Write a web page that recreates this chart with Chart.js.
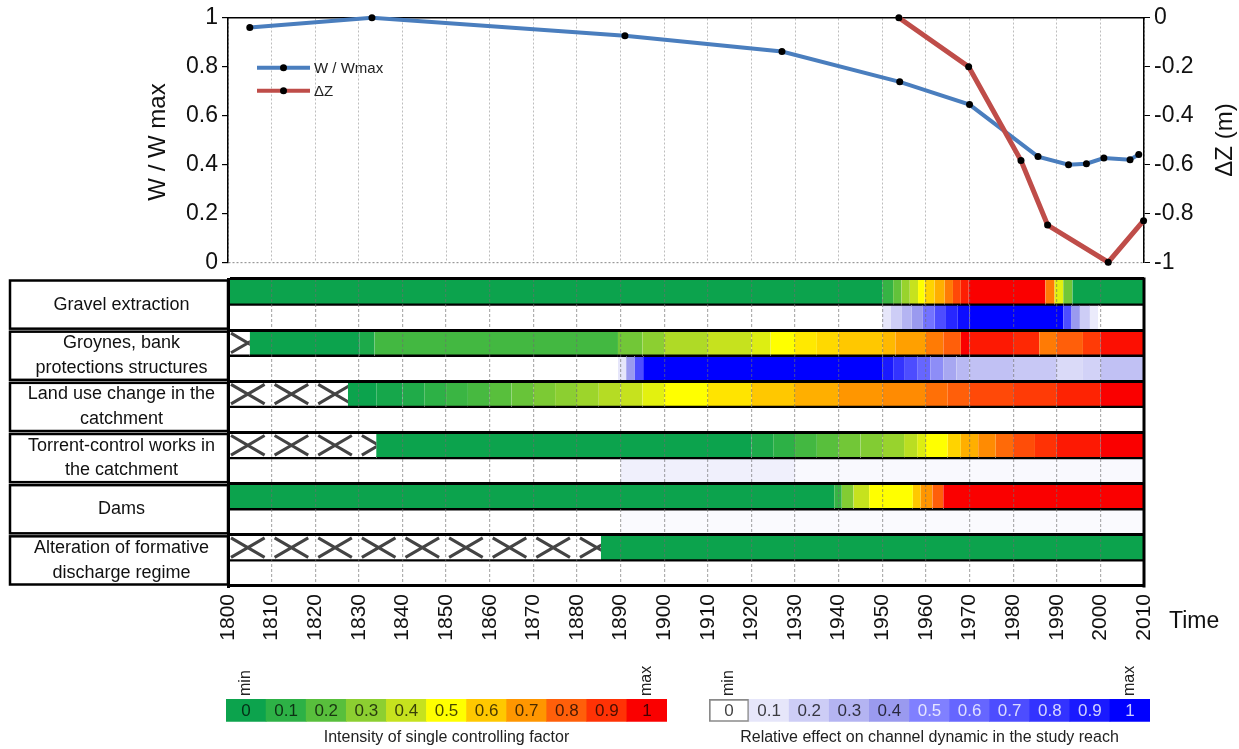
<!DOCTYPE html>
<html>
<head>
<meta charset="utf-8">
<title>Channel width, bed level and controlling factors</title>
<script src="https://cdn.jsdelivr.net/npm/chart.js@4.4.1/dist/chart.umd.min.js"></script>
<style>
  body { margin: 0; background: #fff; }
  #wrap { position: relative; width: 1239px; height: 749px; overflow: hidden; background: #fff; }
  canvas { position: absolute; }
</style>
</head>
<body>
<div id="wrap">
  <canvas id="lineChart" width="1239" height="280" style="left:0;top:0"></canvas>
  <canvas id="heatChart" width="1239" height="400" style="left:0;top:270px"></canvas>
  <canvas id="legendA" width="520" height="87" style="left:180px;top:662px"></canvas>
  <canvas id="legendB" width="520" height="87" style="left:665px;top:662px"></canvas>
</div>
<script>
// ---- top chart: width ratio and bed level change ----
const wYears = [1805, 1833, 1891, 1927, 1954, 1970, 1985.7, 1992.7, 1996.8, 2000.8, 2006.8, 2008.8];
const wValues = [0.96, 1.0, 0.927, 0.862, 0.738, 0.645, 0.432, 0.399, 0.403, 0.426, 0.419, 0.441];
const dzYears = [1953.8, 1969.8, 1981.8, 1987.9, 2001.8, 2009.9];
const dzValues = [0, -0.2, -0.584, -0.848, -1.0, -0.83];

const leftTicks = [0, 0.2, 0.4, 0.6, 0.8, 1];
const leftTickLabels = ['0', '0.2', '0.4', '0.6', '0.8', '1'];
const rightTicks = [-1, -0.8, -0.6, -0.4, -0.2, 0];
const rightTickLabels = ['-1', '-0.8', '-0.6', '-0.4', '-0.2', '0'];
const decadeTicks = [1800, 1810, 1820, 1830, 1840, 1850, 1860, 1870, 1880, 1890, 1900,
  1910, 1920, 1930, 1940, 1950, 1960, 1970, 1980, 1990, 2000, 2010];

// ---- heatmap: [start year, value] segments, null = not present (hatched) ----
const factorLabels = ['Gravel extraction', ['Groynes, bank', 'protections structures'],
  ['Land use change in the', 'catchment'], ['Torrent-control works in', 'the catchment'],
  'Dams', ['Alteration of formative', 'discharge regime']];

const gravelI = [[1800, 0], [1950, 0.12], [1952.5, 0.22], [1954.4, 0.32], [1956.3, 0.4], [1958.2, 0.5],
  [1959.7, 0.58], [1962, 0.65], [1964.3, 0.75], [1966.2, 0.85], [1968, 0.94], [1969.8, 1],
  [1987.4, 0.75], [1989.5, 0.45], [1991.5, 0.25], [1993.6, 0]];
const gravelE = [[1800, 0], [1950, 0.1], [1952, 0.2], [1954.5, 0.3], [1956.7, 0.4], [1959.3, 0.55],
  [1962, 0.7], [1964.6, 0.85], [1967.3, 0.95], [1970, 1], [1991.5, 0.7], [1993.4, 0.4],
  [1995.3, 0.2], [1997.6, 0.08], [1999.5, 0]];
const groynesI = [[1800, null], [1805, 0], [1830.2, 0.05], [1833.6, 0.15], [1889.4, 0.25], [1895, 0.3],
  [1900, 0.36], [1910, 0.4], [1920, 0.44], [1924.4, 0.5], [1930, 0.54], [1935, 0.57], [1940, 0.6],
  [1950, 0.63], [1953, 0.68], [1960, 0.75], [1964, 0.8], [1968, 1], [1970, 0.95], [1980, 0.92],
  [1986, 0.75], [1990, 0.8], [1996, 0.88], [2000, 0.97]];
const groynesE = [[1800, 0], [1889.4, 0.1], [1891.3, 0.4], [1893.2, 0.7], [1895.2, 1], [1950, 0.9],
  [1952.5, 0.8], [1955, 0.7], [1958, 0.6], [1961, 0.45], [1964, 0.35], [1967, 0.28], [1970, 0.25],
  [1980, 0.22], [1990, 0.15], [1996, 0.18], [2000, 0.25]];
const landI = [[1800, null], [1827.5, 0], [1834, 0.03], [1840, 0.06], [1845, 0.1], [1850, 0.13],
  [1855, 0.16], [1860, 0.2], [1865, 0.23], [1870, 0.27], [1875, 0.3], [1880, 0.33], [1885, 0.37],
  [1890, 0.4], [1895, 0.45], [1900, 0.5], [1910, 0.55], [1920, 0.6], [1930, 0.65], [1940, 0.7],
  [1950, 0.72], [1960, 0.77], [1965, 0.8], [1970, 0.85], [1980, 0.88], [1990, 0.93], [2000, 1]];
const landE = [[1800, 0]];
const torrentI = [[1800, null], [1834, 0], [1920, 0.05], [1925, 0.1], [1930, 0.15], [1935, 0.2],
  [1940, 0.25], [1945, 0.28], [1950, 0.32], [1955, 0.38], [1958, 0.44], [1960, 0.5], [1965, 0.58],
  [1968, 0.65], [1972, 0.72], [1976, 0.78], [1980, 0.84], [1985, 0.9], [1990, 0.95], [2000, 1]];
const torrentE = [[1800, 0], [1890, 0.06], [1930, 0.025]];
const damsI = [[1800, 0], [1939, 0.12], [1940.7, 0.28], [1943.4, 0.4], [1947, 0.5], [1957, 0.6],
  [1958.8, 0.7], [1961.5, 0.8], [1964, 1]];
const damsE = [[1800, 0], [1890, 0.02]];
const alterationI = [[1800, null], [1885.5, 0]];
const alterationE = [[1800, 0]];

// ---- colour scales ----
const legendValues = [0, 0.1, 0.2, 0.3, 0.4, 0.5, 0.6, 0.7, 0.8, 0.9, 1];
const legendLabels = ['0', '0.1', '0.2', '0.3', '0.4', '0.5', '0.6', '0.7', '0.8', '0.9', '1'];
const intensityPalette = ['#0ca34d', '#2db146', '#58bf3c', '#8ccf31', '#c6e21e', '#ffff00',
  '#ffc800', '#ff9600', '#ff5f0a', '#ff3205', '#fa0000'];
const effectPalette = ['#ffffff', '#e6e6fa', '#cdcdf6', '#b4b4f2', '#9a9aef', '#8080ff',
  '#6666ff', '#4d4dff', '#3333ff', '#1a1aff', '#0000ff'];

const FONT = "'Liberation Sans', Arial, Helvetica, sans-serif";
Chart.defaults.font.family = FONT;
Chart.defaults.color = '#111';
Chart.defaults.animation = false;
Chart.defaults.plugins.legend.display = false;
Chart.defaults.plugins.tooltip.enabled = false;

function hexRgb(h) {
  return [parseInt(h.slice(1, 3), 16), parseInt(h.slice(3, 5), 16), parseInt(h.slice(5, 7), 16)];
}
function colorAt(palette, v) {
  if (v === null) return '#ffffff';
  const t = Math.min(Math.max(v, 0), 1) * 10;
  const i = Math.min(Math.floor(t), 9);
  const f = t - i;
  const a = hexRgb(palette[i]), b = hexRgb(palette[i + 1]);
  const c = a.map((x, k) => Math.round(x + (b[k] - x) * f));
  return 'rgb(' + c.join(',') + ')';
}

// ---------------- top line chart ----------------
const topDeco = {
  id: 'topDeco',
  afterDraw(chart) {
    const ctx = chart.ctx, area = chart.chartArea;
    ctx.save();
    // axis titles
    ctx.fillStyle = '#111';
    ctx.font = '24px ' + FONT;
    ctx.textAlign = 'center';
    ctx.textBaseline = 'middle';
    ctx.translate(158, 142);
    ctx.rotate(-Math.PI / 2);
    ctx.fillText('W / W max', 0, 0);
    ctx.setTransform(1, 0, 0, 1, 0, 0);
    ctx.translate(1225, 140);
    ctx.rotate(-Math.PI / 2);
    ctx.fillText('\u0394Z (m)', 0, 0);
    ctx.setTransform(1, 0, 0, 1, 0, 0);
    // legend
    const items = chart.data.datasets.map(d => d).sort((a, b) => a.legendIndex - b.legendIndex);
    items.forEach((d, i) => {
      const y = area.top + 50 + i * 23;
      const x0 = area.left + 29, x1 = area.left + 82;
      ctx.strokeStyle = d.borderColor;
      ctx.lineWidth = 4;
      ctx.beginPath();
      ctx.moveTo(x0, y);
      ctx.lineTo(x1, y);
      ctx.stroke();
      ctx.fillStyle = '#000';
      ctx.beginPath();
      ctx.arc((x0 + x1) / 2, y, 3.5, 0, Math.PI * 2);
      ctx.fill();
      ctx.fillStyle = '#222';
      ctx.font = '15px ' + FONT;
      ctx.textAlign = 'left';
      ctx.fillText(d.label, x1 + 4, y + 1);
    });
    ctx.restore();
  }
};

new Chart(document.getElementById('lineChart'), {
  type: 'line',
  data: {
    datasets: [{
      label: 'W / Wmax',
      legendIndex: 0,
      data: wYears.map((x, i) => ({ x, y: wValues[i] })),
      yAxisID: 'y',
      borderColor: '#4a7ebe',
      borderWidth: 4,
      pointRadius: 3.5,
      pointBackgroundColor: '#000',
      pointBorderWidth: 0,
      order: 1,
      clip: false
    }, {
      label: '\u0394Z',
      legendIndex: 1,
      data: dzYears.map((x, i) => ({ x, y: dzValues[i] })),
      yAxisID: 'y1',
      borderColor: '#bf4d49',
      borderWidth: 5,
      pointRadius: 3.5,
      pointBackgroundColor: '#000',
      pointBorderWidth: 0,
      order: 0,
      clip: false
    }]
  },
  options: {
    responsive: false,
    layout: { padding: { top: 16, bottom: 13, left: 0, right: 0 } },
    scales: {
      x: {
        type: 'linear', position: 'top', min: 1800, max: 2010,
        afterBuildTicks: s => { s.ticks = decadeTicks.map(v => ({ value: v })); },
        ticks: { display: false },
        grid: { color: '#bdbdbd', lineWidth: 1, drawTicks: false },
        border: { display: true, color: '#000', width: 1.5, dash: [2, 2] },
        afterFit: s => { s.height = 0; }
      },
      y: {
        position: 'left', min: 0, max: 1,
        afterBuildTicks: s => { s.ticks = leftTicks.map(v => ({ value: v })); },
        ticks: { font: { size: 23 }, color: '#111', padding: 4, callback: (v, i) => leftTickLabels[i] },
        grid: {
          color: c => (c.tick && c.tick.value === 0 ? '#9a9a9a' : 'rgba(0,0,0,0)'),
          tickColor: '#000', tickLength: 6, lineWidth: 1.2
        },
        border: { display: true, color: '#000', width: 1.5, dash: [2, 2] },
        afterFit: s => { s.width = 228; }
      },
      y1: {
        position: 'right', min: -1, max: 0,
        afterBuildTicks: s => { s.ticks = rightTicks.map(v => ({ value: v })); },
        ticks: { font: { size: 23 }, color: '#111', padding: 4, callback: (v, i) => rightTickLabels[i] },
        grid: { drawOnChartArea: false, color: '#000', tickColor: '#000', tickLength: 6 },
        border: { display: true, color: '#000', width: 1.5 },
        afterFit: s => { s.width = 1239 - 1144; }
      }
    }
  },
  plugins: [topDeco]
});

// ---------------- heatmap of controlling factors ----------------
function toSegments(rows, palette) {
  const data = [], colors = [], hatch = [];
  rows.forEach((row, r) => {
    row.forEach(([start, v], k) => {
      const end = k + 1 < row.length ? row[k + 1][0] : 2010;
      data.push({ x: [start, end], y: factorLabels[r] });
      colors.push(colorAt(palette, v));
      hatch.push(v === null);
    });
  });
  return { data, colors, hatch };
}
const intensitySeg = toSegments([gravelI, groynesI, landI, torrentI, damsI, alterationI], intensityPalette);
const effectSeg = toSegments([gravelE, groynesE, landE, torrentE, damsE, alterationE], effectPalette);

const heatDeco = {
  id: 'heatDeco',
  afterDatasetsDraw(chart) {
    const ctx = chart.ctx, xs = chart.scales.x;
    const meta = chart.getDatasetMeta(0);
    ctx.save();
    meta.data.forEach((el, i) => {
      if (!intensitySeg.hatch[i]) return;
      const p = el.getProps(['x', 'y', 'base', 'height'], true);
      const top = p.y - p.height / 2, bottom = p.y + p.height / 2;
      const left = Math.min(p.x, p.base), right = Math.max(p.x, p.base);
      ctx.save();
      ctx.beginPath();
      ctx.rect(left, top, right - left, bottom - top);
      ctx.clip();
      ctx.strokeStyle = '#444';
      ctx.lineWidth = 3;
      for (let d = 1800; d < 2010; d += 10) {
        const x0 = xs.getPixelForValue(d) + 3, x1 = xs.getPixelForValue(d + 10) - 7;
        if (x0 > right) break;
        ctx.beginPath();
        ctx.moveTo(x0, top + 3); ctx.lineTo(x1, bottom - 3);
        ctx.moveTo(x0, bottom - 3); ctx.lineTo(x1, top + 3);
        ctx.stroke();
      }
      ctx.restore();
    });
    ctx.restore();
  },
  afterDraw(chart) {
    const ctx = chart.ctx, area = chart.chartArea;
    const h = (area.bottom - area.top) / factorLabels.length;
    ctx.save();
    ctx.strokeStyle = '#000';
    ctx.lineWidth = 2.5;
    for (let i = 0; i < factorLabels.length; i++) {
      const t = area.top + i * h;
      ctx.strokeRect(10, t + 1.5, area.left - 10, h - 3);
    }
    ctx.lineWidth = 3;
    ctx.beginPath();
    ctx.moveTo(area.right, area.top - 1.5);
    ctx.lineTo(area.right, area.bottom + 1.5);
    ctx.stroke();
    ctx.fillStyle = '#111';
    ctx.font = '23px ' + FONT;
    ctx.textAlign = 'left';
    ctx.textBaseline = 'middle';
    ctx.fillText('Time', area.right + 25, area.bottom + 36);
    ctx.restore();
  }
};

new Chart(document.getElementById('heatChart'), {
  type: 'bar',
  data: {
    labels: factorLabels,
    datasets: [{
      label: 'Intensity of single controlling factor',
      data: intensitySeg.data,
      backgroundColor: intensitySeg.colors,
      borderColor: '#000',
      borderWidth: { top: 0, bottom: 1.5, left: 0, right: 0 },
      borderSkipped: false,
      barPercentage: 1,
      categoryPercentage: 1
    }, {
      label: 'Relative effect on channel dynamic in the study reach',
      data: effectSeg.data,
      backgroundColor: effectSeg.colors,
      borderColor: '#000',
      borderWidth: { top: 1.5, bottom: 0, left: 0, right: 0 },
      borderSkipped: false,
      barPercentage: 1,
      categoryPercentage: 1
    }]
  },
  options: {
    responsive: false,
    indexAxis: 'y',
    layout: { padding: { top: 9, right: 95, left: 0, bottom: 0 } },
    scales: {
      x: {
        type: 'linear', position: 'bottom', min: 1800, max: 2010,
        afterBuildTicks: s => { s.ticks = decadeTicks.map(v => ({ value: v })); },
        ticks: { font: { size: 21 }, color: '#111', padding: 8, minRotation: 90, maxRotation: 90, autoSkip: false,
          callback: v => String(v) },
        grid: { color: 'rgba(110,110,110,0.55)', lineWidth: 1.2, drawTicks: false, z: 1 },
        border: { display: false, dash: [3, 2] },
        afterFit: s => { s.height = 84; }
      },
      y: {
        type: 'category', position: 'left', offset: true,
        ticks: { font: { size: 18, lineHeight: 1.38 }, color: '#111', crossAlign: 'center', padding: 13,
          autoSkip: false },
        grid: { offset: true, color: '#000', lineWidth: 3, drawTicks: false, z: 2 },
        border: { display: true, color: '#000', width: 3, z: 2 },
        afterFit: s => { s.width = 228; s.paddingTop = 0; s.paddingBottom = 0; }
      }
    }
  },
  plugins: [heatDeco]
});

// ---------------- colour legends ----------------
function makeLegend(id, palette, caption, padLeft, padRight, textColors, firstBorder) {
  const cellText = {
    id: 'cellText',
    afterDatasetsDraw(chart) {
      const ctx = chart.ctx, area = chart.chartArea;
      const els = chart.getDatasetMeta(0).data;
      const yMid = (area.top + area.bottom) / 2;
      ctx.save();
      ctx.font = '17px ' + FONT;
      ctx.textAlign = 'center';
      ctx.textBaseline = 'middle';
      els.forEach((el, i) => {
        ctx.fillStyle = textColors(legendValues[i]);
        ctx.fillText(legendLabels[i], el.x, yMid + 1);
      });
      // min / max marks
      ctx.fillStyle = '#222';
      ctx.font = '16px ' + FONT;
      ctx.textAlign = 'left';
      [[els[0].x, 'min'], [els[els.length - 1].x, 'max']].forEach(([x, t]) => {
        ctx.save();
        ctx.translate(x, area.top - 3);
        ctx.rotate(-Math.PI / 2);
        ctx.fillText(t, 0, 0);
        ctx.restore();
      });
      ctx.restore();
    }
  };
  new Chart(document.getElementById(id), {
    type: 'bar',
    data: {
      labels: legendLabels,
      datasets: [{
        data: legendValues.map(() => [0, 1]),
        backgroundColor: legendValues.map(v => colorAt(palette, v)),
        borderColor: '#8a8a8a',
        borderWidth: legendValues.map((v, i) => (firstBorder && i === 0 ? 2 : 0)),
        borderSkipped: false,
        barPercentage: 1,
        categoryPercentage: 1
      }]
    },
    options: {
      responsive: false,
      layout: { padding: { left: padLeft, right: padRight, top: 37, bottom: 0 } },
      scales: {
        x: { display: false },
        y: { display: false, min: 0, max: 1 }
      },
      plugins: {
        title: {
          display: true, position: 'bottom', text: caption, color: '#222',
          font: { size: 16, weight: 'normal' }, padding: { top: 6, bottom: 2 }
        }
      }
    },
    plugins: [cellText]
  });
}

makeLegend('legendA', intensityPalette, 'Intensity of single controlling factor', 46, 33,
  () => 'rgba(0,0,0,0.72)', false);
makeLegend('legendB', effectPalette, 'Relative effect on channel dynamic in the study reach', 44, 35,
  v => (v >= 0.5 ? 'rgba(255,255,255,0.8)' : 'rgba(0,0,0,0.75)'), true);
</script>
</body>
</html>
